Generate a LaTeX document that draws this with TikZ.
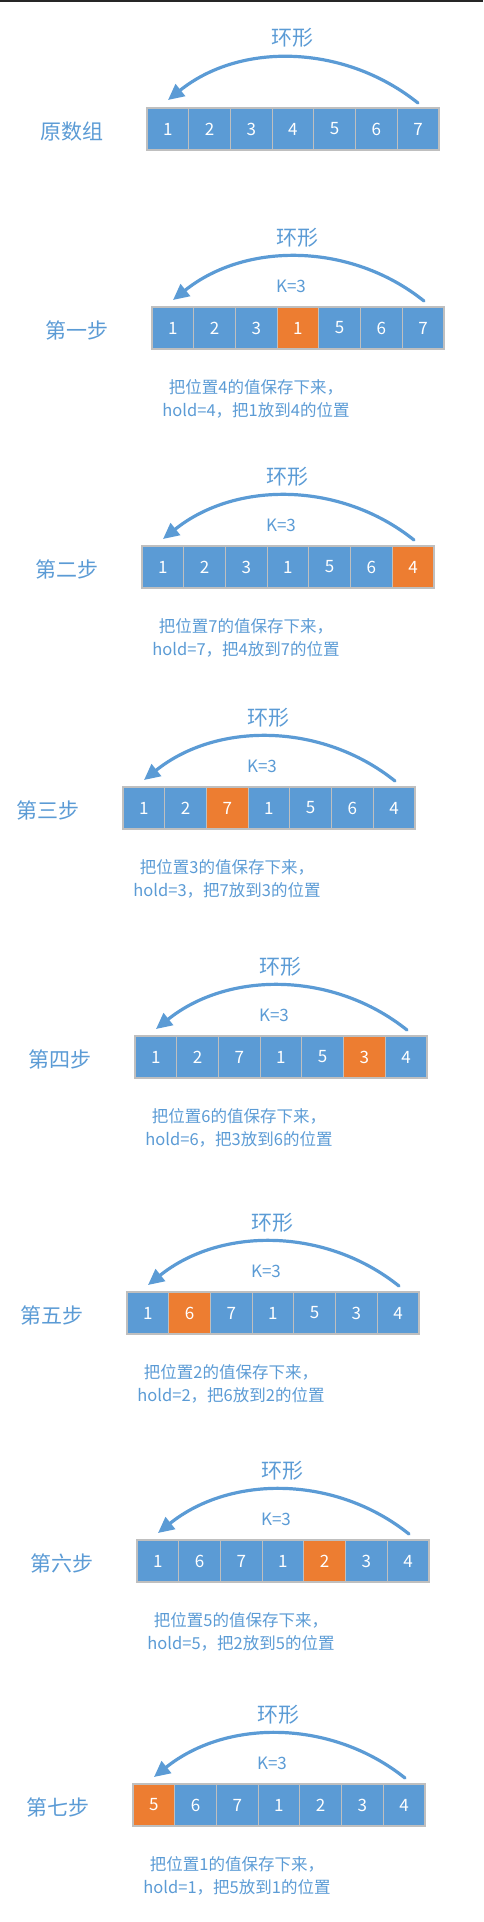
\documentclass[tikz,border=0pt]{standalone}
\usepackage{fontspec}
\setmainfont{Noto Sans CJK SC}
\usetikzlibrary{arrows.meta}
\definecolor{cellblue}{HTML}{5B9BD5}
\definecolor{holdorange}{HTML}{ED7D31}
\definecolor{cellline}{HTML}{BFBFBF}
\tikzset{
	cellbox/.style={draw=cellline,line width=1.2pt,fill=cellblue,text=white,minimum width=41.7pt,minimum height=42pt,inner sep=0pt,font=\fontsize{17}{17}\selectfont},
	holdbox/.style={cellbox,fill=holdorange},
	steplabel/.style={text=cellblue,font=\fontsize{21}{21}\selectfont},
	ringlabel/.style={text=cellblue,font=\fontsize{21}{21}\selectfont},
	klabel/.style={text=cellblue,font=\fontsize{17}{17}\selectfont},
	notelabel/.style={text=cellblue,align=center,font=\fontsize{16.5}{23}\selectfont},
	ringarrow/.style={draw=cellblue,line width=3.2pt,line cap=round,-{Triangle[length=16pt,width=15pt]}}
}
\begin{document}
\begin{tikzpicture}[x=1pt,y=-1pt]
	\useasboundingbox (0,0) rectangle (483,1922);
	\draw[black!85,line width=1.5pt] (0,0.75) -- (483,0.75);
	% original array
	\begin{scope}[shift={(147,108)}]
		\foreach \v in {1,...,7}
			\node[cellbox] (a\v) at (\v*41.7-20.85,21) {\v};
		\node[steplabel] (alab) at (-75,24) {原数组};
		\node[ringlabel] (aring) at (145,-70) {环形};
		\coordinate (as) at (271,-5);
		\coordinate (at) at (21,-8);
		\draw[ringarrow] (as) .. controls +(-73,-58.5) and +(73,-58.5) .. (at);
	\end{scope}
	% the seven steps
	\foreach \bx/\by/\lab/\a/\b/\c/\d/\e/\f/\g/\hi/\hv [count=\s] in {
		152/307/第一步/1/2/3/1/5/6/7/4/1,
		142/546/第二步/1/2/3/1/5/6/4/7/4,
		123/787/第三步/1/2/7/1/5/6/4/3/7,
		135/1036/第四步/1/2/7/1/5/3/4/6/3,
		127/1292/第五步/1/6/7/1/5/3/4/2/6,
		137/1540/第六步/1/6/7/1/2/3/4/5/2,
		133/1784/第七步/5/6/7/1/2/3/4/1/5} {
		\begin{scope}[shift={(\bx,\by)}]
			\foreach \v [count=\j] in {\a,\b,\c,\d,\e,\f,\g} {
				\ifnum\j=\hi\relax\def\boxstyle{holdbox}\else\def\boxstyle{cellbox}\fi
				\node[\boxstyle] (b\s-\j) at (\j*41.7-20.85,21) {\v};
			}
			\node[steplabel] (lab\s) at (-75,23) {\lab};
			\node[ringlabel] (ring\s) at (145,-69) {环形};
			\node[klabel] (k\s) at (139,-21) {K=3};
			\coordinate (s\s) at (272,-6);
			\coordinate (t\s) at (21,-7);
			\draw[ringarrow] (s\s) .. controls +(-73,-58.5) and +(73,-58.5) .. (t\s);
			\node[notelabel] (note\s) at (104,92) {把位置\hi 的值保存下来，\\hold=\hi，把\hv 放到\hi 的位置};
		\end{scope}
	}
\end{tikzpicture}
\end{document}
